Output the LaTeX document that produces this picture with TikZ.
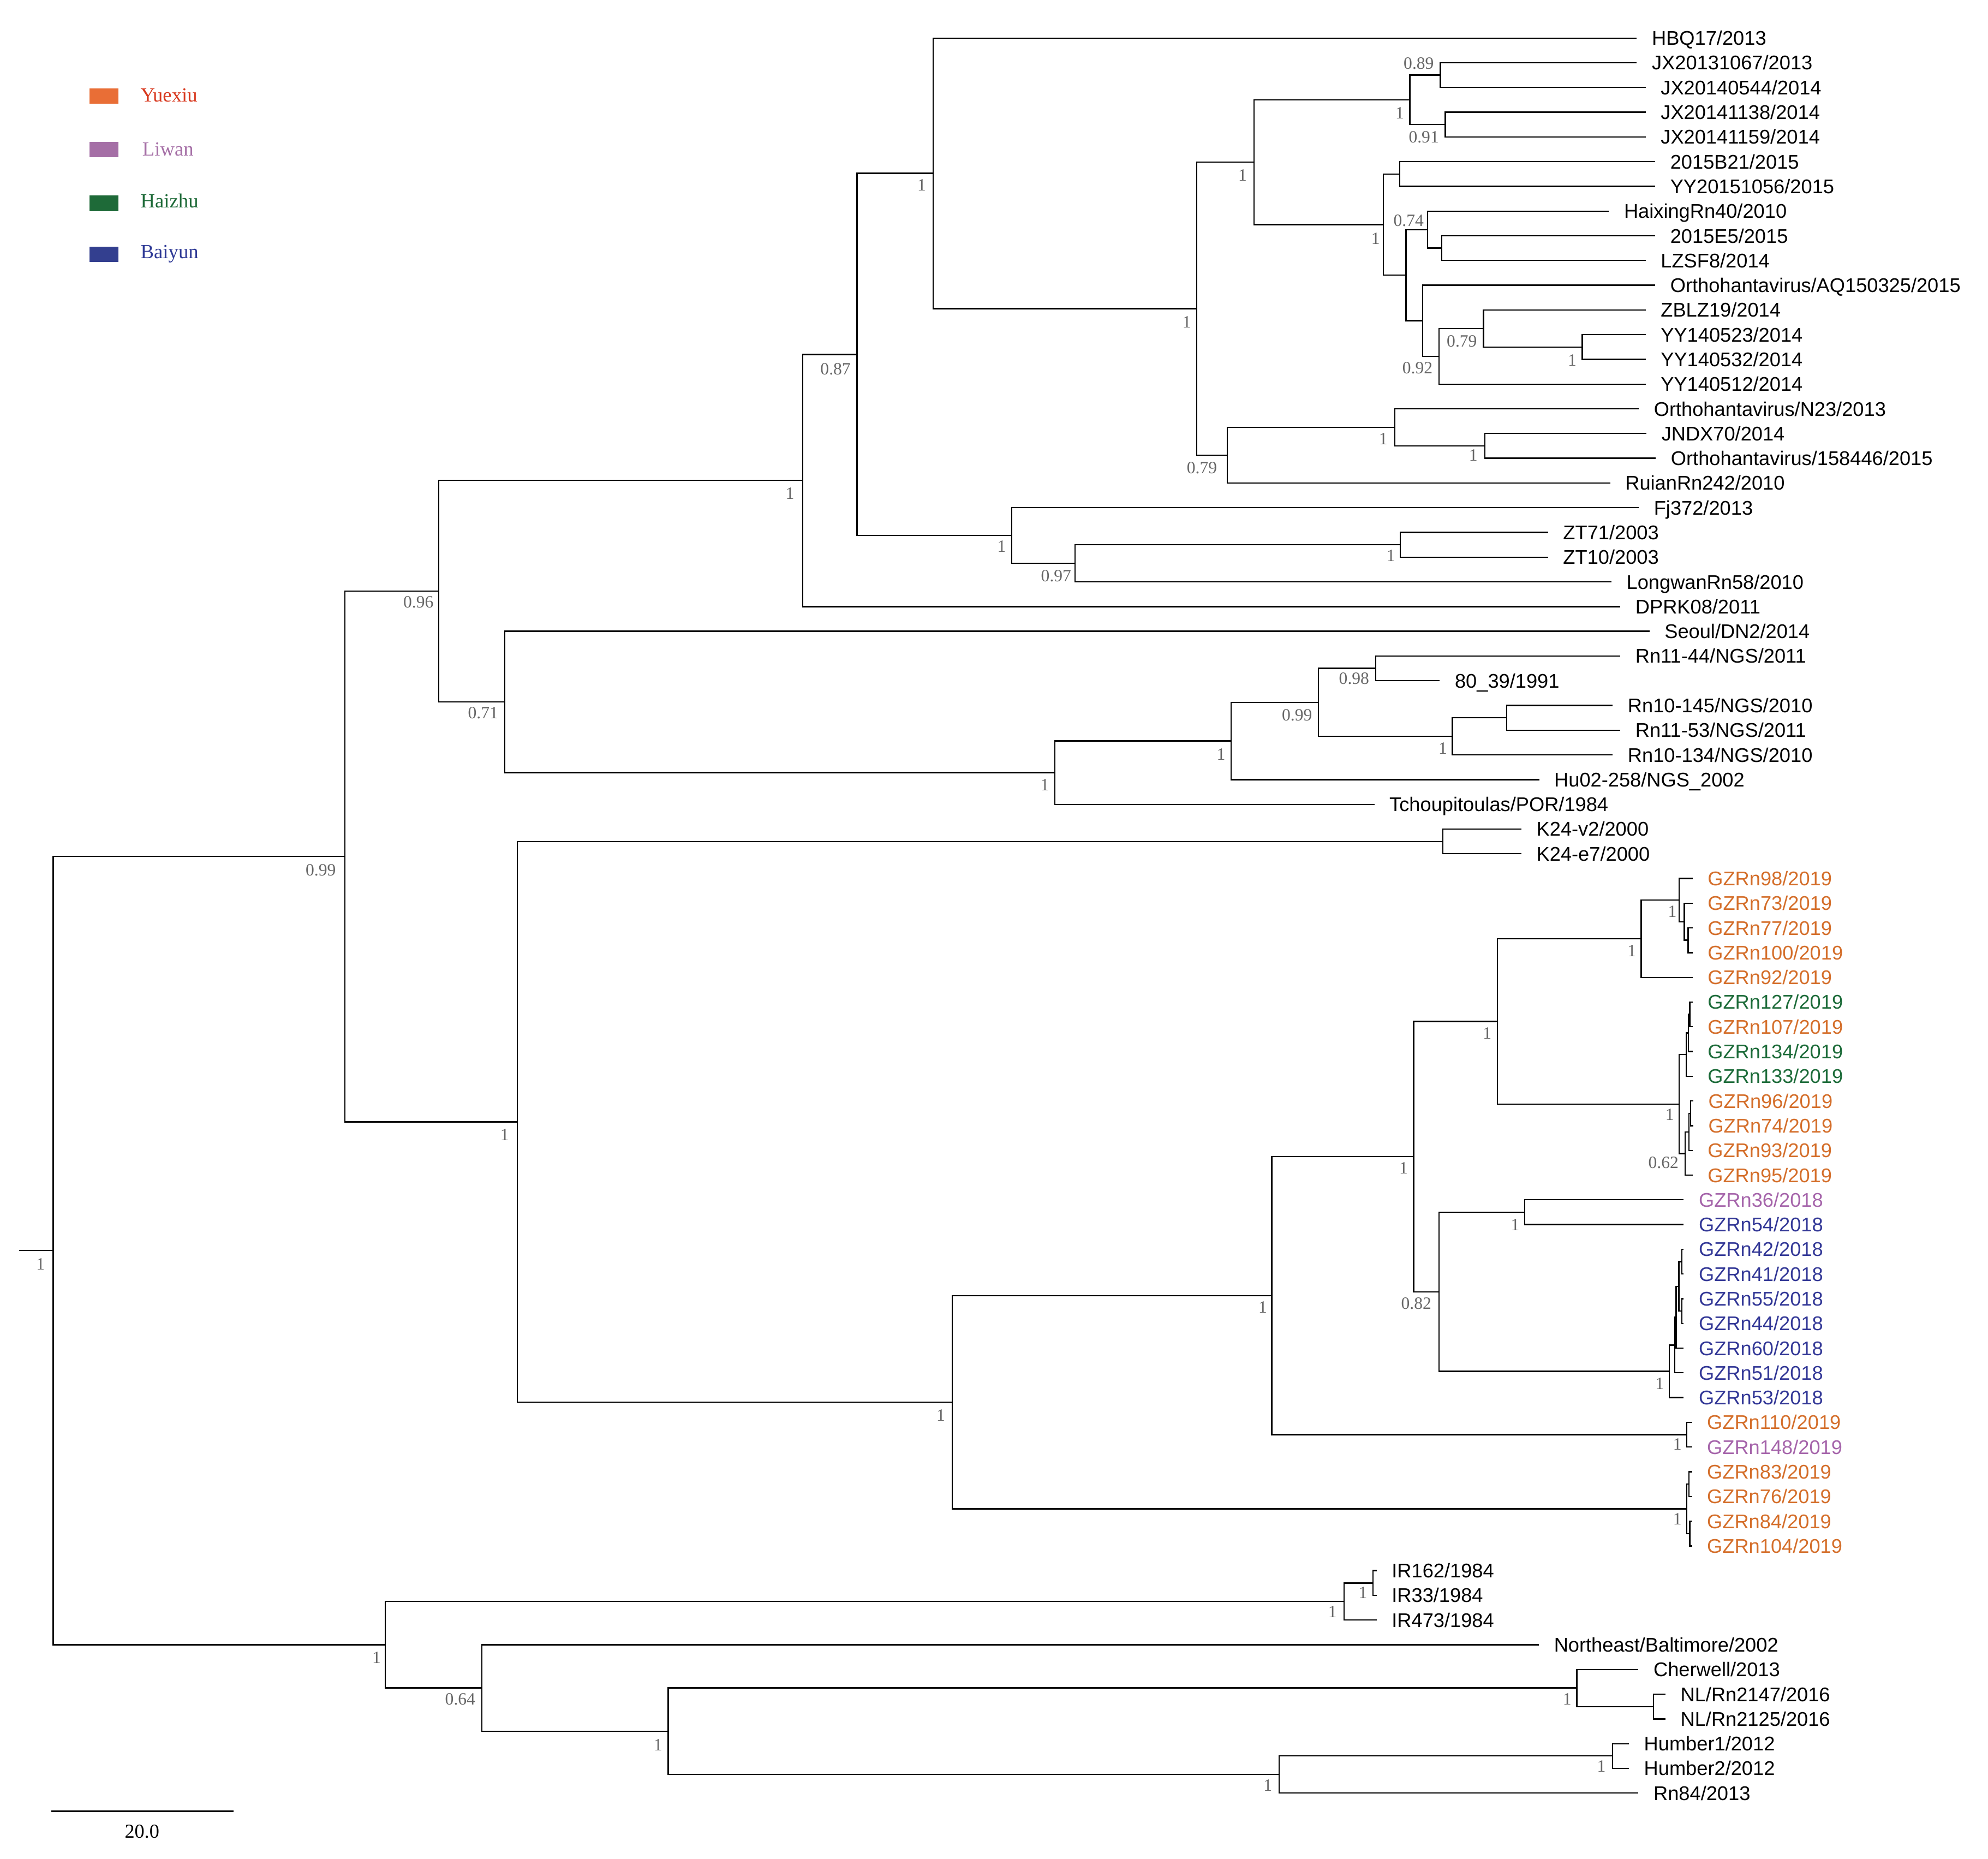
\documentclass[tikz,border=0pt]{standalone}
\usepackage{fontspec}
\setmainfont{Liberation Serif}
\newfontfamily\leaffont{Liberation Sans}
\usetikzlibrary{calc}
\definecolor{cYx}{HTML}{D46E2A}
\definecolor{cLw}{HTML}{A564AA}
\definecolor{cHz}{HTML}{1C6B39}
\definecolor{cBy}{HTML}{323796}
\definecolor{kYx}{HTML}{E96E36}
\definecolor{kYxT}{HTML}{D8381E}
\definecolor{kLw}{HTML}{A56FA6}
\definecolor{kHz}{HTML}{1E6A38}
\definecolor{kBy}{HTML}{333F8F}
\definecolor{kByT}{HTML}{2F3A96}
\definecolor{suppgray}{HTML}{666666}
\newcommand{\leafat}[4][black]{%
  \coordinate (t#2) at (#3,{30+(#2-1)*19.493});
  \node[leaftext,text=#1] (n#2) at ($(t#2)+(11.5,5.6)$) {#4};}
\begin{document}
\begin{tikzpicture}[x=0.5pt,y=-0.5pt,
  br/.style={line width=0.5pt},
  leaftext/.style={font=\leaffont\fontsize{7.8pt}{9pt}\selectfont, inner sep=0pt, anchor=base west},
  supp/.style={font=\fontsize{6.8pt}{8pt}\selectfont, text=suppgray, inner sep=0pt},
  legbox/.style={minimum width=11.45pt, minimum height=6.1pt, inner sep=0pt, draw=none},
  legtext/.style={font=\fontsize{7.9pt}{9pt}\selectfont, inner sep=0pt, anchor=base west}]
\useasboundingbox (0,0) rectangle (1568,1465.6);

% legend
\node[legbox,fill=kYx] (kY) at (82.05,75.7) {};
\node[legbox,fill=kLw] (kL) at (82.05,117.85) {};
\node[legbox,fill=kHz] (kH) at (82.05,160.3) {};
\node[legbox,fill=kBy] (kB) at (82.05,200.65) {};
\node[legtext,text=kYxT] (lY) at (110.5,80.3) {Yuexiu};
\node[legtext,text=kLw] (lL) at (111.9,122.7) {Liwan};
\node[legtext,text=kHz] (lH) at (110.5,163.6) {Haizhu};
\node[legtext,text=kByT] (lB) at (110.5,203.7) {Baiyun};

% leaves
\leafat{1}{1291}{HBQ17/2013}
\leafat{2}{1291}{JX20131067/2013}
\leafat{3}{1298}{JX20140544/2014}
\leafat{4}{1298}{JX20141138/2014}
\leafat{5}{1298}{JX20141159/2014}
\leafat{6}{1305.5}{2015B21/2015}
\leafat{7}{1305.5}{YY20151056/2015}
\leafat{8}{1269}{HaixingRn40/2010}
\leafat{9}{1305.5}{2015E5/2015}
\leafat{10}{1298}{LZSF8/2014}
\leafat{11}{1305.5}{Orthohantavirus/AQ150325/2015}
\leafat{12}{1298}{ZBLZ19/2014}
\leafat{13}{1298}{YY140523/2014}
\leafat{14}{1298}{YY140532/2014}
\leafat{15}{1298}{YY140512/2014}
\leafat{16}{1292.6}{Orthohantavirus/N23/2013}
\leafat{17}{1298.6}{JNDX70/2014}
\leafat{18}{1306}{Orthohantavirus/158446/2015}
\leafat{19}{1270}{RuianRn242/2010}
\leafat{20}{1292.6}{Fj372/2013}
\leafat{21}{1221}{ZT71/2003}
\leafat{22}{1221}{ZT10/2003}
\leafat{23}{1271}{LongwanRn58/2010}
\leafat{24}{1278}{DPRK08/2011}
\leafat{25}{1301}{Seoul/DN2/2014}
\leafat{26}{1278}{Rn11-44/NGS/2011}
\leafat{27}{1135.6}{80\_39/1991}
\leafat{28}{1272}{Rn10-145/NGS/2010}
\leafat{29}{1278}{Rn11-53/NGS/2011}
\leafat{30}{1272}{Rn10-134/NGS/2010}
\leafat{31}{1214}{Hu02-258/NGS\_2002}
\leafat{32}{1084}{Tchoupitoulas/POR/1984}
\leafat{33}{1200}{K24-v2/2000}
\leafat{34}{1200}{K24-e7/2000}
\leafat[cYx]{35}{1335}{GZRn98/2019}
\leafat[cYx]{36}{1335}{GZRn73/2019}
\leafat[cYx]{37}{1335}{GZRn77/2019}
\leafat[cYx]{38}{1335}{GZRn100/2019}
\leafat[cYx]{39}{1335}{GZRn92/2019}
\leafat[cHz]{40}{1335}{GZRn127/2019}
\leafat[cYx]{41}{1335}{GZRn107/2019}
\leafat[cHz]{42}{1335}{GZRn134/2019}
\leafat[cHz]{43}{1335}{GZRn133/2019}
\leafat[cYx]{44}{1335.5}{GZRn96/2019}
\leafat[cYx]{45}{1335.5}{GZRn74/2019}
\leafat[cYx]{46}{1335}{GZRn93/2019}
\leafat[cYx]{47}{1335}{GZRn95/2019}
\leafat[cLw]{48}{1328}{GZRn36/2018}
\leafat[cBy]{49}{1328}{GZRn54/2018}
\leafat[cBy]{50}{1328}{GZRn42/2018}
\leafat[cBy]{51}{1328}{GZRn41/2018}
\leafat[cBy]{52}{1328}{GZRn55/2018}
\leafat[cBy]{53}{1328}{GZRn44/2018}
\leafat[cBy]{54}{1328}{GZRn60/2018}
\leafat[cBy]{55}{1328}{GZRn51/2018}
\leafat[cBy]{56}{1328}{GZRn53/2018}
\leafat[cYx]{57}{1334.5}{GZRn110/2019}
\leafat[cLw]{58}{1334.5}{GZRn148/2019}
\leafat[cYx]{59}{1334.5}{GZRn83/2019}
\leafat[cYx]{60}{1334.5}{GZRn76/2019}
\leafat[cYx]{61}{1334.5}{GZRn84/2019}
\leafat[cYx]{62}{1334.5}{GZRn104/2019}
\leafat{63}{1085.8}{IR162/1984}
\leafat{64}{1085.8}{IR33/1984}
\leafat{65}{1085.8}{IR473/1984}
\leafat{66}{1213.8}{Northeast/Baltimore/2002}
\leafat{67}{1292.3}{Cherwell/2013}
\leafat{68}{1313.6}{NL/Rn2147/2016}
\leafat{69}{1313.6}{NL/Rn2125/2016}
\leafat{70}{1284.8}{Humber1/2012}
\leafat{71}{1284.8}{Humber2/2012}
\leafat{72}{1292.3}{Rn84/2013}

% internal nodes
\coordinate (Rs) at (15,986.2);
\coordinate (R0) at (42,986.2);
\coordinate (N099) at (272,675.45);
\coordinate (N096) at (346,466.2);
\coordinate (N633) at (633,378.9);
\coordinate (N087) at (676,279.5);
\coordinate (A) at (736,136.7);
\coordinate (B) at (944,243.4);
\coordinate (C) at (989,127.9);
\coordinate (E) at (1112,78.75);
\coordinate (G) at (1136,59.25);
\coordinate (H) at (1140,98.25);
\coordinate (F) at (1091,177.1);
\coordinate (I) at (1104,137.25);
\coordinate (J) at (1109,217);
\coordinate (K) at (1126,181.1);
\coordinate (M) at (1137,195.65);
\coordinate (L) at (1122,252.9);
\coordinate (N) at (1135,280.95);
\coordinate (O) at (1170,259);
\coordinate (P) at (1248,273.65);
\coordinate (D) at (968,358.95);
\coordinate (Q) at (1100,337);
\coordinate (R) at (1171,351.65);
\coordinate (S) at (798,422.3);
\coordinate (T) at (848,444.2);
\coordinate (U) at (1104.5,429.65);
\coordinate (V) at (398,553.55);
\coordinate (W) at (832,609.3);
\coordinate (X) at (971,584.35);
\coordinate (Y) at (1040,553.9);
\coordinate (Z) at (1085,527.05);
\coordinate (AA) at (1145.5,580.7);
\coordinate (AB) at (1188.5,566.05);
\coordinate (AC) at (408,884.7);
\coordinate (AD) at (1138,663.55);
\coordinate (AE) at (751,1105.8);
\coordinate (AF) at (1003,1021.7);
\coordinate (AH) at (1115,912.1);
\coordinate (AJ) at (1181,805.5);
\coordinate (AL) at (1294.5,740.3);
\coordinate (AN) at (1324.5,709.85);
\coordinate (AO) at (1328.5,726.9);
\coordinate (AP) at (1331.4,741.45);
\coordinate (AM) at (1324.5,870.65);
\coordinate (AQ) at (1330,831.65);
\coordinate (AS) at (1331.6,814.6);
\coordinate (AT) at (1332.8,799.95);
\coordinate (AR) at (1329,909.65);
\coordinate (AU) at (1332,892.6);
\coordinate (AV) at (1333.5,877.95);
\coordinate (AK) at (1135,1018.7);
\coordinate (AW) at (1202.7,955.95);
\coordinate (AX) at (1316.7,1081.4);
\coordinate (AY) at (1320.8,1060.7);
\coordinate (AZ) at (1322,1038.75);
\coordinate (BA) at (1324.2,1014.4);
\coordinate (BB) at (1326.5,994.9);
\coordinate (BC) at (1326.5,1033.85);
\coordinate (AI) at (1330.5,1131.35);
\coordinate (AG) at (1330.5,1189.85);
\coordinate (BD) at (1332,1170.35);
\coordinate (BE) at (1332.8,1209.35);
\coordinate (BF) at (304,1297);
\coordinate (BG) at (1060,1262.9);
\coordinate (BI) at (1083,1248.35);
\coordinate (BH) at (380,1331.1);
\coordinate (BJ) at (527,1365.25);
\coordinate (BK) at (1243.6,1331.1);
\coordinate (BM) at (1304,1345.75);
\coordinate (BL) at (1009,1399.4);
\coordinate (BN) at (1272,1384.75);

% branches
\draw[br] (Rs) -- (R0);
\foreach \p/\c in {R0/N099, R0/BF, N099/N096, N099/AC, N096/N633, N096/V,
  N633/N087, N633/t24, N087/A, N087/S, A/t1, A/B, B/C, B/D, C/E, C/F,
  E/G, E/H, G/t2, G/t3, H/t4, H/t5, F/I, F/J, I/t6, I/t7,
  J/K, J/L, K/t8, K/M, M/t9, M/t10, L/t11, L/N, N/O, N/t15, O/t12, O/P, P/t13, P/t14,
  D/Q, D/t19, Q/t16, Q/R, R/t17, R/t18, S/t20, S/T, T/U, T/t23, U/t21, U/t22,
  V/t25, V/W, W/X, W/t32, X/Y, X/t31, Y/Z, Y/AA, Z/t26, Z/t27, AA/AB, AA/t30, AB/t28, AB/t29,
  AC/AD, AC/AE, AD/t33, AD/t34, AE/AF, AE/AG, AF/AH, AF/AI, AH/AJ, AH/AK,
  AJ/AL, AJ/AM, AL/AN, AL/t39, AN/t35, AN/AO, AO/t36, AO/AP, AP/t37, AP/t38,
  AM/AQ, AM/AR, AQ/AS, AQ/t43, AS/AT, AS/t42, AT/t40, AT/t41,
  AR/AU, AR/t47, AU/AV, AU/t46, AV/t44, AV/t45,
  AK/AW, AK/AX, AW/t48, AW/t49, AX/AY, AX/t56, AY/AZ, AY/t55, AZ/BA, AZ/t54,
  BA/BB, BA/BC, BB/t50, BB/t51, BC/t52, BC/t53,
  AI/t57, AI/t58, AG/BD, AG/BE, BD/t59, BD/t60, BE/t61, BE/t62,
  BF/BG, BF/BH, BG/BI, BG/t65, BI/t63, BI/t64,
  BH/t66, BH/BJ, BJ/BK, BJ/BL, BK/t67, BK/BM, BM/t68, BM/t69, BL/BN, BL/t72, BN/t70, BN/t71}
  \draw[br] (\p) |- (\c);

% support values
\node[supp] (sR0) at (32,997) {1};
\node[supp] (sN099) at (253,686) {0.99};
\node[supp] (sN096) at (330,475) {0.96};
\node[supp] (sN633) at (623,389) {1};
\node[supp] (sN087) at (659,291) {0.87};
\node[supp] (sA) at (727,146) {1};
\node[supp] (sB) at (936,254) {1};
\node[supp] (sC) at (980,138) {1};
\node[supp] (sE) at (1104,89) {1};
\node[supp] (sG) at (1119,50) {0.89};
\node[supp] (sH) at (1123,108) {0.91};
\node[supp] (sF) at (1085,188) {1};
\node[supp] (sK) at (1111,174) {0.74};
\node[supp] (sN) at (1118,290) {0.92};
\node[supp] (sO) at (1153,269) {0.79};
\node[supp] (sP) at (1240,284) {1};
\node[supp] (sD) at (948,369) {0.79};
\node[supp] (sQ) at (1091,346) {1};
\node[supp] (sR) at (1162,359) {1};
\node[supp] (sS) at (790,431) {1};
\node[supp] (sT) at (833,454) {0.97};
\node[supp] (sU) at (1097,438) {1};
\node[supp] (sV) at (381,562) {0.71};
\node[supp] (sW) at (824,619) {1};
\node[supp] (sX) at (963,595) {1};
\node[supp] (sY) at (1023,564) {0.99};
\node[supp] (sZ) at (1068,535) {0.98};
\node[supp] (sAA) at (1138,590) {1};
\node[supp] (sAC) at (398,895) {1};
\node[supp] (sAE) at (742,1116) {1};
\node[supp] (sAF) at (996,1031) {1};
\node[supp] (sAH) at (1107,921) {1};
\node[supp] (sAJ) at (1173,815) {1};
\node[supp] (sAL) at (1287,750) {1};
\node[supp] (sAN) at (1319,719) {1};
\node[supp] (sAM) at (1317,879) {1};
\node[supp] (sAR) at (1312,917) {0.62};
\node[supp] (sAW) at (1195,966) {1};
\node[supp] (sAK) at (1117,1028) {0.82};
\node[supp] (sAX) at (1309,1091) {1};
\node[supp] (sAI) at (1323,1139) {1};
\node[supp] (sAG) at (1323,1198) {1};
\node[supp] (sBF) at (297,1307) {1};
\node[supp] (sBG) at (1051,1271) {1};
\node[supp] (sBI) at (1075,1256) {1};
\node[supp] (sBH) at (363,1340) {0.64};
\node[supp] (sBJ) at (519,1376) {1};
\node[supp] (sBK) at (1236,1340) {1};
\node[supp] (sBL) at (1000,1408) {1};
\node[supp] (sBN) at (1263,1393) {1};

% scale bar
\coordinate (sb1) at (40.6,1428.2);
\coordinate (sb2) at (184.4,1428.2);
\draw[line width=0.55pt] (sb1) -- (sb2);
\node[font=\fontsize{7.8pt}{9pt}\selectfont, inner sep=0pt, anchor=base] (sbl) at (112,1449.3) {20.0};
\end{tikzpicture}
\end{document}
